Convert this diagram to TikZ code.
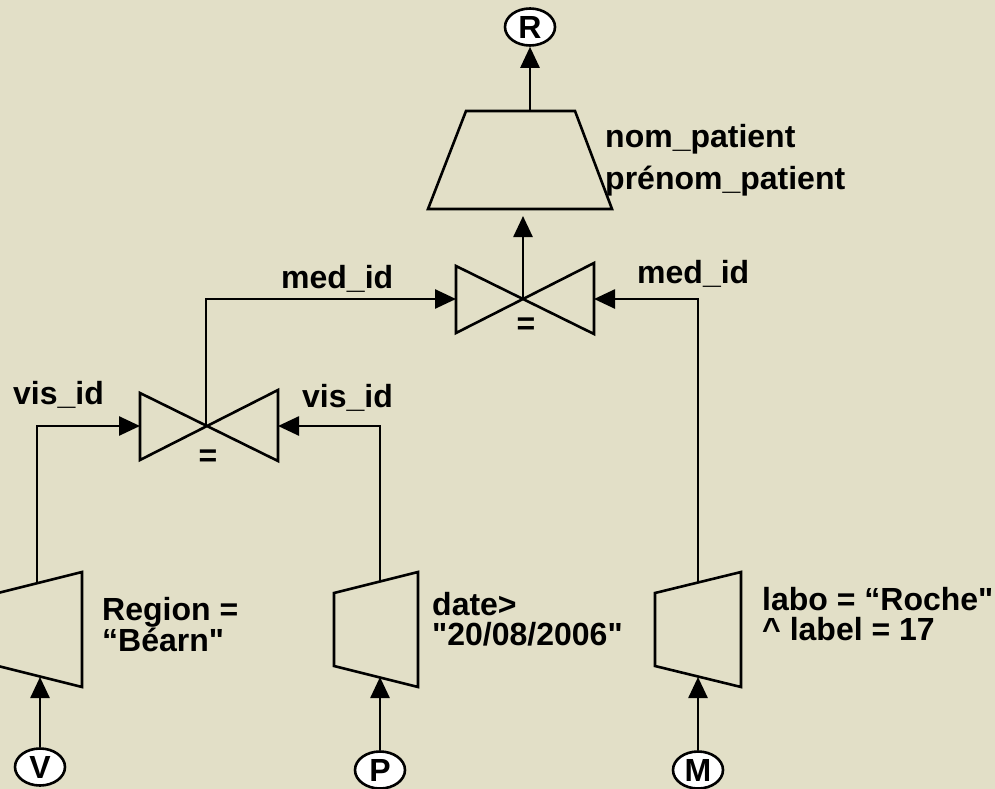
\documentclass[tikz,border=0pt]{standalone}
\usepackage{fontspec}
\setmainfont{Liberation Sans}
\usepackage{xcolor}
\usetikzlibrary{
    arrows.meta,
    shapes
}
\definecolor{paper}{RGB}{226,223,199}
\tikzset{
    rel/.style={line width=2.6pt},
    flow/.style={rel, ->},
    leaf/.style={ellipse, draw, fill=white, line width=2.6pt, inner sep=0pt, minimum width=50pt, minimum height=37pt},
    lbl/.style={inner sep=0pt, align=left}
}

\begin{document}
\begin{tikzpicture}[x=1pt, y=-1pt, >={Triangle[length=21pt,width=19pt]},
    every node/.style={font=\fontsize{32}{30}\selectfont\bfseries}]
                        \fill[paper] (0, 0) rectangle (995, 789);
                        \useasboundingbox (0, 0) rectangle (995, 789);
                        % projection
                        \begin{scope}[shift={(520, 160)}]
                            \draw[rel] (-54, -49) -- (55, -49) -- (92, 49) -- (-92, 49) -- cycle;
                            \coordinate (proj-in) at (3, 56);
                            \coordinate (proj-out) at (10, -49);
                        \end{scope}
                        % upper join
                        \begin{scope}[shift={(523, 299)}]
                            \draw[rel] (-67, -33) -- (71, 35) -- (71, -36) -- (-67, 34) -- cycle;
                            \node[inner sep=0pt] (eq-up) at (3, 27) {=};
                            \coordinate (join-up-c) at (0, 0);
                            \coordinate (join-up-w) at (-67, 0);
                            \coordinate (join-up-e) at (71, 0);
                        \end{scope}
                        % lower join
                        \begin{scope}[shift={(206, 426)}]
                            \draw[rel] (-66, -33) -- (72, 35) -- (72, -36) -- (-66, 34) -- cycle;
                            \node[inner sep=0pt] (eq-low) at (2, 32) {=};
                            \coordinate (join-low-c) at (0, 0);
                            \coordinate (join-low-w) at (-66, 0);
                            \coordinate (join-low-e) at (72, 0);
                        \end{scope}
                        % selections
                        \begin{scope}[shift={(40, 630)}]
                            \draw[rel] (-42, -37) -- (42, -58) -- (42, 57) -- (-42, 36) -- cycle;
                            \coordinate (sel-v-in) at (0, 47);
                            \coordinate (sel-v-out) at (-3, -47);
                        \end{scope}
                        \begin{scope}[shift={(376, 630)}]
                            \draw[rel] (-42, -37) -- (42, -58) -- (42, 57) -- (-42, 36) -- cycle;
                            \coordinate (sel-p-in) at (4, 47);
                            \coordinate (sel-p-out) at (4, -48);
                        \end{scope}
                        \begin{scope}[shift={(698, 630)}]
                            \draw[rel] (-43, -37) -- (43, -58) -- (43, 57) -- (-43, 36) -- cycle;
                            \coordinate (sel-m-in) at (0, 47);
                            \coordinate (sel-m-out) at (0, -47);
                        \end{scope}
                        % relations
                        \node[leaf] (R) at (530, 27) {R};
                        \node[leaf] (V) at (40, 767) {V};
                        \node[leaf] (P) at (380, 770) {P};
                        \node[leaf] (M) at (698, 770) {M};
                        \draw[flow] (V) -- (sel-v-in);
                        \draw[flow] (P) -- (sel-p-in);
                        \draw[flow] (M) -- (sel-m-in);
                        \draw[flow] (sel-v-out) |- (join-low-w);
                        \draw[flow] (sel-p-out) |- (join-low-e);
                        \draw[flow] (join-low-c) |- (join-up-w);
                        \draw[flow] (sel-m-out) |- (join-up-e);
                        \draw[flow] (join-up-c) -- (proj-in);
                        \draw[flow] (proj-out) -- (R);
                        % labels
                        \node[lbl, anchor=base west] (lbl-med-l) at (281, 288) {med\_id};
                        \node[lbl, anchor=base west] (lbl-med-r) at (637, 283) {med\_id};
                        \node[lbl, anchor=base west] (lbl-vis-l) at (13, 404) {vis\_id};
                        \node[lbl, anchor=base west] (lbl-vis-r) at (302, 407) {vis\_id};
                        \node[lbl, anchor=north west] (lbl-proj) at (605, 124) {nom\_patient\\[11pt]prénom\_patient};
                        \node[lbl, anchor=north west] (lbl-sel-v) at (102, 597) {Region =\\“Béarn\textquotedbl};
                        \node[lbl, anchor=north west] (lbl-sel-p) at (432, 592) {date>\\\textquotedbl 20/08/2006\textquotedbl};
                        \node[lbl, anchor=north west] (lbl-sel-m) at (762, 587) {labo = “Roche\textquotedbl\\\textasciicircum{} label = 17};
\end{tikzpicture}
\end{document}
